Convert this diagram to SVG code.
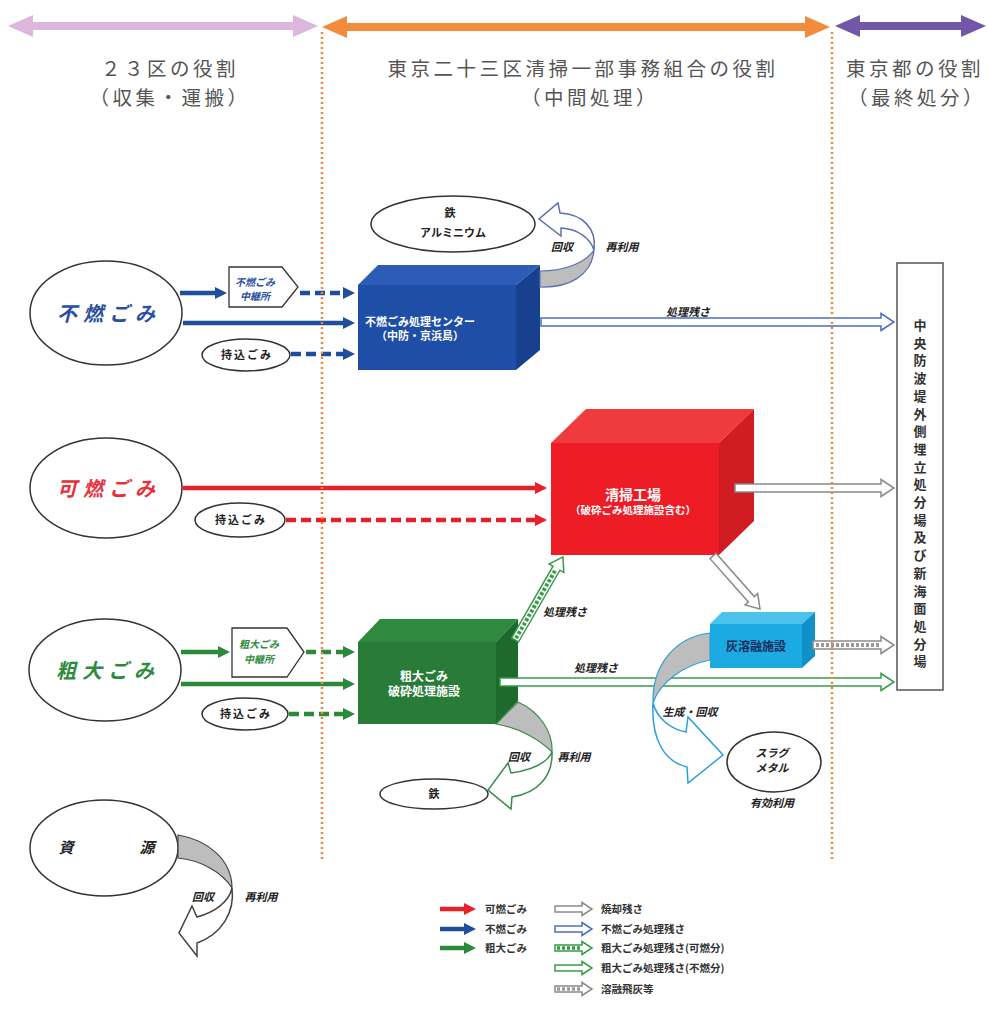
<svg xmlns="http://www.w3.org/2000/svg" width="988" height="1028" viewBox="0 0 988 1028">
<style>
text{font-family:"Noto Sans CJK JP","Noto Sans",sans-serif;}
.hd{font-size:19.5px;fill:#555;text-anchor:middle;letter-spacing:3.5px;}
.big{font-size:20px;font-weight:bold;font-style:italic;text-anchor:middle;letter-spacing:6px;}
.sm{font-size:11px;font-weight:bold;text-anchor:middle;fill:#222;}
.wt{font-weight:bold;text-anchor:middle;fill:#fff;}
.lb{font-size:11px;font-weight:bold;font-style:italic;text-anchor:middle;fill:#222;}
.lg{font-size:10.5px;font-weight:bold;fill:#333;}
.ell{fill:#fff;stroke:#333;stroke-width:1.5;}
.sb{stroke:#1f4e9c;stroke-width:4.5;fill:none;}
.sr{stroke:#e8202a;stroke-width:4.5;fill:none;}
.sg{stroke:#2a8a3a;stroke-width:4.5;fill:none;}
.dash{stroke-dasharray:10 5;}
.hb{fill:#fff;stroke:#4a6fc0;stroke-width:1.5;}
.hgy{fill:#fff;stroke:#8a8a8a;stroke-width:1.5;}
.hgn{fill:#fff;stroke:#3a9a4a;stroke-width:1.5;}
.dot{stroke:#f0883a;stroke-width:2.5;stroke-dasharray:2 3;}
</style>
<defs>
<marker id="mb" viewBox="0 0 12 12" refX="6" refY="6" markerWidth="12" markerHeight="12" markerUnits="userSpaceOnUse" orient="auto"><path d="M0,0 L12,6 L0,12 Z" fill="#1f4e9c"/></marker>
<marker id="mr" viewBox="0 0 12 12" refX="6" refY="6" markerWidth="12" markerHeight="12" markerUnits="userSpaceOnUse" orient="auto"><path d="M0,0 L12,6 L0,12 Z" fill="#e8202a"/></marker>
<marker id="mg" viewBox="0 0 12 12" refX="6" refY="6" markerWidth="12" markerHeight="12" markerUnits="userSpaceOnUse" orient="auto"><path d="M0,0 L12,6 L0,12 Z" fill="#2a8a3a"/></marker>
</defs>
<rect width="988" height="1028" fill="#fff"/>

<g id="header">
<line x1="28" y1="26" x2="300" y2="26" stroke="#dcb6dc" stroke-width="8"/>
<polygon points="8,26 33,15 33,37" fill="#dcb6dc"/>
<polygon points="318,26 293,15 293,37" fill="#dcb6dc"/>
<line x1="340" y1="27" x2="812" y2="27" stroke="#f28b3c" stroke-width="8"/>
<polygon points="322,27 347,16 347,38" fill="#f28b3c"/>
<polygon points="830,27 805,16 805,38" fill="#f28b3c"/>
<line x1="852" y1="26" x2="968" y2="26" stroke="#7257a6" stroke-width="8"/>
<polygon points="835,26 860,15 860,37" fill="#7257a6"/>
<polygon points="986,26 961,15 961,37" fill="#7257a6"/>
<text class="hd" x="170" y="76">２３区の役割</text>
<text class="hd" x="170" y="105">（収集・運搬）</text>
<text class="hd" x="583" y="76">東京二十三区清掃一部事務組合の役割</text>
<text class="hd" x="590" y="105">（中間処理）</text>
<text class="hd" x="915" y="76" letter-spacing="2">東京都の役割</text>
<text class="hd" x="917" y="105" letter-spacing="1">（最終処分）</text>
</g>

<g id="funen">
<ellipse class="ell" cx="106" cy="313" rx="76" ry="52"/>
<text class="big" x="109" y="321" fill="#2a4fa0">不燃ごみ</text>
</g>
<g id="funen-chukei">
<polygon points="229,267 282,267 298,287 282,307 229,307" fill="#fff" stroke="#333" stroke-width="1.3"/>
<text x="255" y="286" font-size="10" font-weight="bold" font-style="italic" text-anchor="middle" fill="#2a4fa0">不燃ごみ</text>
<text x="255" y="300" font-size="10" font-weight="bold" font-style="italic" text-anchor="middle" fill="#2a4fa0">中継所</text>
</g>
<g id="funen-mochikomi">
<ellipse class="ell" cx="246" cy="355" rx="44" ry="16"/>
<text class="sm" x="247" y="359" letter-spacing="2">持込ごみ</text>
</g>
<g id="funen-center">
<polygon points="358,285 378,265 540,265 516,285" fill="#2d5cb6"/>
<polygon points="516,285 540,265 540,350 516,370" fill="#17408e"/>
<rect x="358" y="285" width="158" height="85" fill="#1e4ea6"/>
<text class="wt" x="420" y="326" font-size="11">不燃ごみ処理センター</text>
<text class="wt" x="420" y="340" font-size="11">（中防・京浜島）</text>
</g>
<g id="tetsu-al">
<ellipse class="ell" cx="453" cy="224" rx="82" ry="28"/>
<text class="sm" x="450" y="217" font-size="12">鉄</text>
<text class="sm" x="453" y="237" font-size="12">アルミニウム</text>
</g>

<g id="kanen">
<ellipse class="ell" cx="106" cy="488" rx="76" ry="50"/>
<text class="big" x="109" y="496" fill="#e8303a">可燃ごみ</text>
</g>
<g id="kanen-mochikomi">
<ellipse class="ell" cx="240" cy="520" rx="45" ry="17"/>
<text class="sm" x="241" y="524" letter-spacing="2">持込ごみ</text>
</g>
<g id="seiso-kojo">
<polygon points="551,443 586,409 754,409 719,443" fill="#ef3a3e"/>
<polygon points="719,443 754,409 754,521 719,555" fill="#d21c24"/>
<rect x="551" y="443" width="168" height="112" fill="#ee1c25"/>
<text class="wt" x="633" y="500" font-size="14">清掃工場</text>
<text class="wt" x="633" y="514" font-size="10.5">（破砕ごみ処理施設含む）</text>
</g>

<g id="sodai">
<ellipse class="ell" cx="105" cy="670" rx="76" ry="51"/>
<text class="big" x="108" y="678" fill="#2e8b3e">粗大ごみ</text>
</g>
<g id="sodai-chukei">
<polygon points="232,628 287,628 304,652 287,677 232,677" fill="#fff" stroke="#333" stroke-width="1.3"/>
<text x="259" y="648" font-size="10" font-weight="bold" font-style="italic" text-anchor="middle" fill="#2e8b3e">粗大ごみ</text>
<text x="259" y="663" font-size="10" font-weight="bold" font-style="italic" text-anchor="middle" fill="#2e8b3e">中継所</text>
</g>
<g id="sodai-mochikomi">
<ellipse class="ell" cx="245" cy="714" rx="43" ry="16"/>
<text class="sm" x="246" y="718" letter-spacing="2">持込ごみ</text>
</g>
<g id="sodai-hasai">
<polygon points="358,642 380,619 518,619 496,642" fill="#2f8a3f"/>
<polygon points="496,642 518,619 518,701 496,724" fill="#1d6a2c"/>
<rect x="358" y="642" width="138" height="82" fill="#287c38"/>
<text class="wt" x="424" y="681" font-size="12">粗大ごみ</text>
<text class="wt" x="424" y="696" font-size="12">破砕処理施設</text>
</g>
<g id="tetsu">
<ellipse class="ell" cx="434" cy="794" rx="54" ry="15"/>
<text class="sm" x="434" y="798" font-size="12">鉄</text>
</g>

<g id="haiyoyu">
<polygon points="710,624 722,612 815,612 802,624" fill="#4cc2ef"/>
<polygon points="802,624 815,612 815,656 802,668" fill="#1290c8"/>
<rect x="710" y="624" width="92" height="44" fill="#1caae2"/>
<text x="756" y="651" font-size="12" font-weight="bold" text-anchor="middle" fill="#1a2a5a">灰溶融施設</text>
</g>
<g id="slag">
<ellipse class="ell" cx="774" cy="762" rx="47" ry="30"/>
<text class="lb" x="772" y="757">スラグ</text>
<text class="lb" x="772" y="772">メタル</text>
</g>

<g id="shigen">
<ellipse class="ell" cx="104" cy="848" rx="74" ry="48"/>
<text x="66" y="853" font-size="15" font-weight="bold" font-style="italic" text-anchor="middle" fill="#222">資</text>
<text x="147" y="853" font-size="15" font-weight="bold" font-style="italic" text-anchor="middle" fill="#222">源</text>
</g>

<g id="shobunjo">
<rect x="897" y="263" width="46" height="427" fill="#fff" stroke="#555" stroke-width="1.5"/>
<text x="920" y="330" font-size="13" font-weight="bold" text-anchor="middle" fill="#333"><tspan x="920">中</tspan><tspan x="920" dy="17.7">央</tspan><tspan x="920" dy="17.7">防</tspan><tspan x="920" dy="17.7">波</tspan><tspan x="920" dy="17.7">堤</tspan><tspan x="920" dy="17.7">外</tspan><tspan x="920" dy="17.7">側</tspan><tspan x="920" dy="17.7">埋</tspan><tspan x="920" dy="17.7">立</tspan><tspan x="920" dy="17.7">処</tspan><tspan x="920" dy="17.7">分</tspan><tspan x="920" dy="17.7">場</tspan><tspan x="920" dy="17.7">及</tspan><tspan x="920" dy="17.7">び</tspan><tspan x="920" dy="17.7">新</tspan><tspan x="920" dy="17.7">海</tspan><tspan x="920" dy="17.7">面</tspan><tspan x="920" dy="17.7">処</tspan><tspan x="920" dy="17.7">分</tspan><tspan x="920" dy="17.7">場</tspan></text>
</g>

<g id="connectors">
<line class="sb" x1="180" y1="293" x2="221" y2="293" marker-end="url(#mb)"/>
<line class="sb dash" x1="300" y1="293" x2="349" y2="293" marker-end="url(#mb)"/>
<line class="sb" x1="183" y1="323" x2="349" y2="323" marker-end="url(#mb)"/>
<line class="sb dash" x1="291" y1="354" x2="349" y2="354" marker-end="url(#mb)"/>
<line class="sr" x1="183" y1="488" x2="541" y2="488" marker-end="url(#mr)"/>
<line class="sr dash" x1="286" y1="520" x2="541" y2="520" marker-end="url(#mr)"/>
<line class="sg" x1="181" y1="652" x2="224" y2="652" marker-end="url(#mg)"/>
<line class="sg dash" x1="306" y1="652" x2="349" y2="652" marker-end="url(#mg)"/>
<line class="sg" x1="181" y1="684" x2="349" y2="684" marker-end="url(#mg)"/>
<line class="sg dash" x1="289" y1="714" x2="349" y2="714" marker-end="url(#mg)"/>

<polygon class="hb" points="541,318 881,318 881,313.5 894,322 881,330.5 881,326 541,326"/>
<polygon class="hgy" points="735,484 881,484 881,479.5 894,488 881,496.5 881,492 735,492"/>
<polygon class="hgy" transform="translate(713,556) rotate(48.4)" points="0,-4 57.8,-4 57.8,-8.5 70.8,0 57.8,8.5 57.8,4 0,4"/>
<polygon class="hgy" points="813,641 881,641 881,636.5 894,645 881,653.5 881,649 813,649"/>
<line x1="816" y1="645" x2="879" y2="645" stroke="#9a9a9a" stroke-width="4" stroke-dasharray="3 2"/>
<polygon class="hgn" points="500,678 881,678 881,673.5 894,682 881,690.5 881,686 500,686"/>
<g transform="translate(515,640) rotate(-60)">
<polygon class="hgn" points="0,-4 82.9,-4 82.9,-8.5 95.9,0 82.9,8.5 82.9,4 0,4"/>
<line x1="2" y1="0" x2="81" y2="0" stroke="#3a9a4a" stroke-width="4" stroke-dasharray="3 2"/>
</g>

<path d="M540,287 C568,288 592,276 594,250 C586,262 566,271 540,271 Z" fill="#bdbdbd" stroke="#5b70b0" stroke-width="1.2"/>
<path d="M594,250 C597,228 582,214 560,213 L558,203 L539,219 L561,236 L561,228 C578,229 590,238 594,250 Z" fill="#fff" stroke="#5b70b0" stroke-width="1.5"/>
<path d="M518,702 C540,712 553,732 552,752 C540,740 520,728 496,724 Z" fill="#bdbdbd" stroke="#3a8a4a" stroke-width="1.2"/>
<path d="M552,752 C553,776 538,793 512,797 L511,809 L488,790 L508,763 L511,773 C532,770 547,763 552,752 Z" fill="#fff" stroke="#3a8a4a" stroke-width="1.5"/>
<path d="M710,633 C676,637 652,664 653,703 C660,682 684,665 710,660 Z" fill="#bdbdbd" stroke="#2aa0d8" stroke-width="1.2"/>
<path d="M653,703 C651,740 665,762 687,767 L688,783 L723,755 L688,717 L686,732 C670,729 657,718 653,703 Z" fill="#fff" stroke="#2aa0d8" stroke-width="1.5"/>
<path d="M178,835 C208,840 232,860 232,888 C222,872 200,860 178,858 Z" fill="#bdbdbd" stroke="#444" stroke-width="1.2"/>
<path d="M232,888 C235,912 222,934 197,943 L197,956 L179,933 L192,906 L197,917 C215,912 229,902 232,888 Z" fill="#fff" stroke="#444" stroke-width="1.5"/>

<text class="lb" x="688" y="316" font-style="normal" font-size="10">処理残さ</text>
<text class="lb" x="565" y="616" font-style="normal" font-size="10">処理残さ</text>
<text class="lb" x="596" y="672" font-style="normal" font-size="10">処理残さ</text>
<text class="lb" x="562" y="251">回収</text>
<text class="lb" x="622" y="251">再利用</text>
<text class="lb" x="519" y="761">回収</text>
<text class="lb" x="574" y="761">再利用</text>
<text class="lb" x="690" y="716">生成・回収</text>
<text class="lb" x="772" y="807">有効利用</text>
<text class="lb" x="203" y="901">回収</text>
<text class="lb" x="261" y="901">再利用</text>
</g>

<g id="dividers">
<line class="dot" x1="322" y1="32" x2="322" y2="862"/>
<line class="dot" x1="832" y1="32" x2="832" y2="862"/>
</g>

<g id="legend">
<line class="sr" x1="440" y1="909" x2="470" y2="909" marker-end="url(#mr)"/>
<text class="lg" x="485" y="913">可燃ごみ</text>
<line class="sb" x1="440" y1="929" x2="470" y2="929" marker-end="url(#mb)"/>
<text class="lg" x="485" y="933">不燃ごみ</text>
<line class="sg" x1="440" y1="948" x2="470" y2="948" marker-end="url(#mg)"/>
<text class="lg" x="485" y="952">粗大ごみ</text>
<polygon class="hgy" points="555,906 582,906 582,902.5 592,909 582,915.5 582,912 555,912"/>
<text class="lg" x="601" y="913">焼却残さ</text>
<polygon class="hb" points="555,926 582,926 582,922.5 592,929 582,935.5 582,932 555,932"/>
<text class="lg" x="601" y="933">不燃ごみ処理残さ</text>
<polygon class="hgn" points="555,945 582,945 582,941.5 592,948 582,954.5 582,951 555,951"/>
<line x1="557" y1="948" x2="581" y2="948" stroke="#3a9a4a" stroke-width="3.5" stroke-dasharray="3 2"/>
<text class="lg" x="601" y="952">粗大ごみ処理残さ(可燃分)</text>
<polygon class="hgn" points="555,965 582,965 582,961.5 592,968 582,974.5 582,971 555,971"/>
<text class="lg" x="601" y="972">粗大ごみ処理残さ(不燃分)</text>
<polygon class="hgy" points="555,986 582,986 582,982.5 592,989 582,995.5 582,992 555,992"/>
<line x1="557" y1="989" x2="581" y2="989" stroke="#9a9a9a" stroke-width="3.5" stroke-dasharray="3 2"/>
<text class="lg" x="601" y="993">溶融飛灰等</text>
</g>
</svg>
